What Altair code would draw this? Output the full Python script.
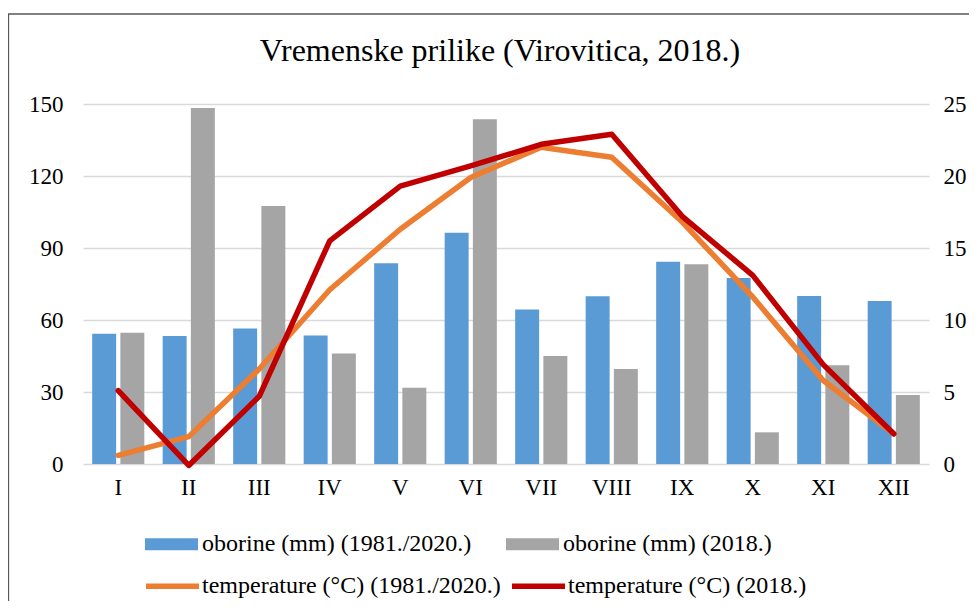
import altair as alt
import pandas as pd

months = ["I", "II", "III", "IV", "V", "VI", "VII", "VIII", "IX", "X", "XI", "XII"]
rain_avg = [54.3, 53.3, 56.5, 53.5, 83.6, 96.4, 64.4, 69.9, 84.3, 77.5, 70.0, 67.9]
rain_2018 = [54.7, 148.3, 107.5, 46.0, 31.8, 143.6, 45.0, 39.6, 83.2, 13.2, 41.1, 28.8]
temp_avg = [0.6, 1.9, 6.6, 12.1, 16.3, 19.9, 22.0, 21.3, 16.8, 11.6, 5.8, 2.1]
temp_2018 = [5.1, -0.1, 4.7, 15.5, 19.3, 20.7, 22.2, 22.9, 17.2, 13.1, 6.9, 2.1]

bar_series = ["oborine (mm) (1981./2020.)", "oborine (mm) (2018.)"]
line_series = ["temperature (°C) (1981./2020.)", "temperature (°C) (2018.)"]
bar_colors = ["#5b9bd5", "#a5a5a5"]
line_colors = ["#ed7d31", "#c00000"]

FONT = "Liberation Serif"

bars_df = pd.DataFrame(
    [{"month": m, "series": bar_series[0], "value": v} for m, v in zip(months, rain_avg)]
    + [{"month": m, "series": bar_series[1], "value": v} for m, v in zip(months, rain_2018)]
)
lines_df = pd.DataFrame(
    [{"month": m, "series": line_series[0], "value": v} for m, v in zip(months, temp_avg)]
    + [{"month": m, "series": line_series[1], "value": v} for m, v in zip(months, temp_2018)]
)

W, H = 846, 360

x_enc = alt.X(
    "month:N",
    sort=months,
    scale=alt.Scale(type="band", paddingInner=0.26, paddingOuter=0.13),
    axis=alt.Axis(
        title=None, labelAngle=0, ticks=False, domain=False, grid=False,
        labelFont=FONT, labelFontSize=23, labelColor="#000000", labelPadding=12,
    ),
)

bars = alt.Chart(bars_df).mark_bar().encode(
    x=x_enc,
    xOffset=alt.XOffset("series:N", sort=bar_series,
                        scale=alt.Scale(paddingInner=0.15, paddingOuter=0)),
    y=alt.Y(
        "value:Q",
        scale=alt.Scale(domain=[0, 150], nice=False),
        axis=alt.Axis(
            title=None, values=[0, 30, 60, 90, 120, 150], ticks=False, domain=False,
            grid=True, gridColor="#d9d9d9", gridWidth=1.5,
            labelFont=FONT, labelFontSize=23, labelColor="#000000", labelPadding=20,
        ),
    ),
    color=alt.Color(
        "series:N",
        scale=alt.Scale(domain=bar_series, range=bar_colors),
        legend=alt.Legend(
            title=None, orient="none", legendX=62, legendY=413.5, direction="horizontal",
            columns=2, columnPadding=34, padding=0,
            symbolType="M-1,-0.23L1,-0.23L1,0.23L-1,0.23Z", symbolSize=2809,
            symbolStrokeWidth=0, labelOffset=4,
            labelFont=FONT, labelFontSize=24, labelColor="#000000", labelLimit=400,
        ),
    ),
)

lines = alt.Chart(lines_df).mark_line(strokeWidth=5.5, strokeJoin="round", strokeCap="round").encode(
    x=alt.X("month:N", sort=months),
    y=alt.Y(
        "value:Q",
        scale=alt.Scale(domain=[0, 25], nice=False),
        axis=alt.Axis(
            title=None, orient="right", values=[0, 5, 10, 15, 20, 25], ticks=False,
            domain=False, grid=False,
            labelFont=FONT, labelFontSize=23, labelColor="#000000", labelPadding=14,
        ),
    ),
    stroke=alt.Stroke(
        "series:N",
        scale=alt.Scale(domain=line_series, range=line_colors),
        legend=alt.Legend(
            title=None, orient="none", legendX=60, legendY=452.5, direction="horizontal",
            columns=2, columnPadding=0, padding=0,
            symbolType="stroke", symbolSize=2809, symbolStrokeWidth=5.5, labelOffset=0,
            labelFont=FONT, labelFontSize=24, labelColor="#000000", labelLimit=400,
        ),
    ),
    order=alt.Order("series:N"),
)

frame = alt.Chart(pd.DataFrame({"k": [0]})).mark_rect(
    filled=False, stroke="#595959", strokeWidth=1.3
).encode(
    x=alt.value(-74.5), x2=alt.value(W + 60),
    y=alt.value(-90), y2=alt.value(H + 200),
)

chart = (
    alt.layer(bars, lines, frame)
    .resolve_scale(y="independent", color="independent")
    .properties(
        width=W, height=H,
        title=alt.TitleParams(
            "Vremenske prilike (Virovitica, 2018.)",
            font=FONT, fontSize=32, fontWeight="normal", color="#000000",
            anchor="middle", offset=-55, dx=-6,
        ),
        autosize=alt.AutoSizeParams(type="none"),
        padding={"left": 75, "top": 96, "right": 40, "bottom": 137},
    )
    .configure_view(stroke=None)
)

chart.save("out.html", embed_options={"renderer": "svg", "actions": False})
